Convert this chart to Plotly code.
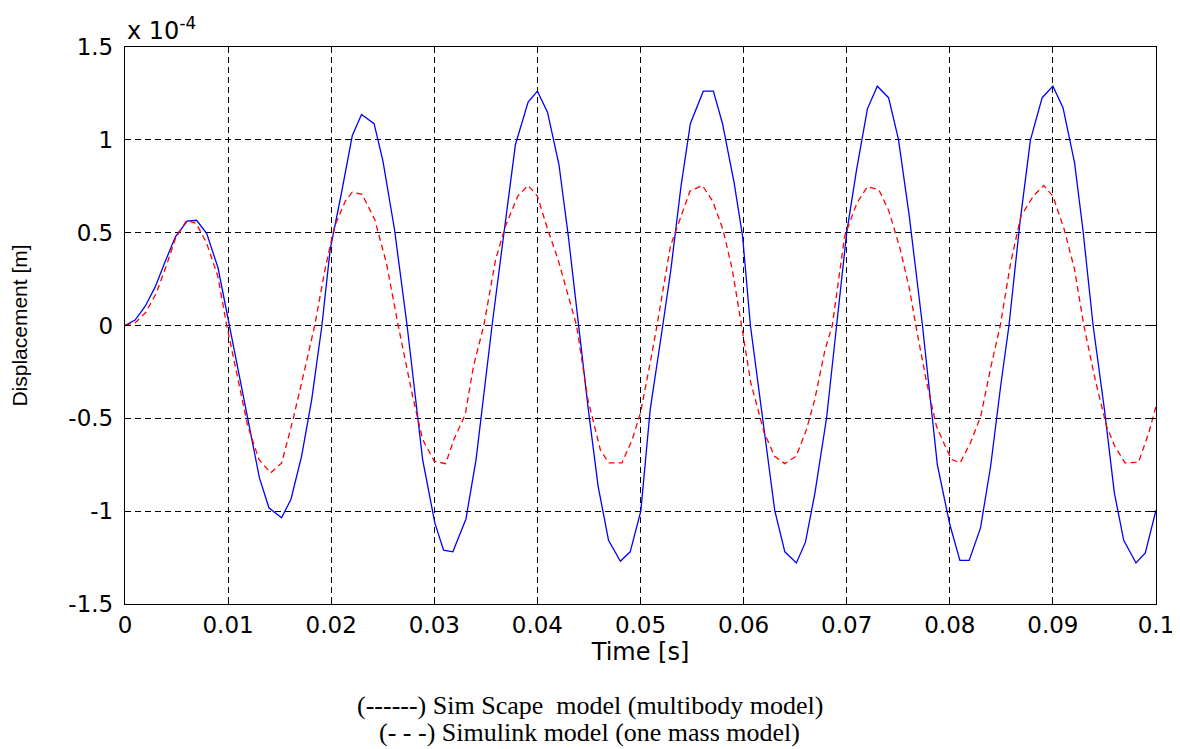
import plotly.graph_objects as go

# Time samples [s] and displacement [x 1e-4 m]
simscape_t = [0, 0.00098, 0.00196, 0.00293, 0.00391, 0.00489, 0.00603, 0.00694, 0.00792, 0.00902,
              0.01304, 0.01396, 0.01518, 0.01609, 0.01713, 0.01811, 0.01909, 0.01990, 0.0210, 0.02205,
              0.02294, 0.02416, 0.02502, 0.02614, 0.02736, 0.02887, 0.03005, 0.0309, 0.0318, 0.03307,
              0.03405, 0.0356, 0.0368, 0.03787, 0.0391, 0.0400, 0.04098, 0.04209, 0.0430, 0.04397,
              0.04494, 0.04589, 0.0469, 0.04805, 0.049, 0.05003, 0.05094, 0.05216, 0.05295, 0.05393,
              0.05484, 0.05609, 0.05707, 0.05795, 0.05908, 0.0599, 0.06066, 0.06302, 0.064, 0.06512,
              0.066, 0.06692, 0.06805, 0.06902, 0.070, 0.07096, 0.07201, 0.07297, 0.07406, 0.07502,
              0.07607, 0.07735, 0.07879, 0.08, 0.08098, 0.08188, 0.08298, 0.08396, 0.08493, 0.08574,
              0.0868, 0.08782, 0.08896, 0.09, 0.09098, 0.0921, 0.09291, 0.0939, 0.095, 0.09596,
              0.09687, 0.09806, 0.09896, 0.1]
simscape_y = [0, 0.029, 0.104, 0.208, 0.346, 0.478, 0.562, 0.567, 0.496, 0.311,
              -0.821, -0.982, -1.036, -0.937, -0.704, -0.399, -0.004, 0.409, 0.715, 1.024,
              1.137, 1.087, 0.885, 0.517, 0.0, -0.722, -1.063, -1.21, -1.219, -1.042,
              -0.722, 0.0, 0.517, 0.975, 1.203, 1.262, 1.149, 0.867, 0.481, 0.0,
              -0.453, -0.866, -1.157, -1.27, -1.219, -1.0, -0.453, 0.0, 0.302, 0.751,
              1.088, 1.262, 1.262, 1.088, 0.769, 0.481, 0.0, -0.996, -1.219, -1.279,
              -1.167, -0.901, -0.497, 0.0, 0.5, 0.84, 1.167, 1.289, 1.227, 1.002,
              0.589, 0.0, -0.749, -1.072, -1.265, -1.265, -1.09, -0.758, -0.327, 0.0,
              0.553, 0.998, 1.227, 1.289, 1.173, 0.877, 0.517, 0.0, -0.453, -0.901,
              -1.157, -1.279, -1.225, -0.995]

simulink_t = [0, 0.001, 0.002, 0.003, 0.004, 0.0049, 0.006, 0.0069, 0.0079, 0.009,
              0.00987, 0.0110, 0.0119, 0.0130, 0.01412, 0.0152, 0.0163, 0.0175, 0.0184, 0.0194,
              0.02033, 0.02137, 0.02205, 0.023, 0.02422, 0.02535, 0.0265, 0.0279, 0.02887, 0.030,
              0.0311, 0.0319, 0.0330, 0.0338, 0.0348, 0.03595, 0.0369, 0.0381, 0.0391, 0.0400,
              0.0410, 0.042, 0.043, 0.0438, 0.0449, 0.0461, 0.0469, 0.0482, 0.0492, 0.050,
              0.0510, 0.0516, 0.0529, 0.0548, 0.056, 0.0570, 0.0580, 0.0589, 0.0598, 0.0607,
              0.0620, 0.063, 0.064, 0.0651, 0.0661, 0.0669, 0.0679, 0.0686, 0.0698, 0.0710,
              0.0720, 0.0731, 0.0741, 0.0752, 0.0761, 0.0767, 0.0777, 0.0787, 0.0797, 0.0802,
              0.0810, 0.0820, 0.0830, 0.0840, 0.0849, 0.0859, 0.0869, 0.0881, 0.0891, 0.0900,
              0.0911, 0.0921, 0.0930, 0.0941, 0.0952, 0.0960, 0.0970, 0.0983, 0.0993, 0.1]
simulink_y = [0, 0.015, 0.07, 0.17, 0.32, 0.47, 0.567, 0.55, 0.446, 0.266,
              0.0, -0.31, -0.54, -0.722, -0.794, -0.74, -0.506, -0.219, 0.0, 0.302,
              0.535, 0.67, 0.718, 0.706, 0.571, 0.338, 0.0, -0.381, -0.614, -0.731,
              -0.744, -0.614, -0.48, -0.219, 0.0, 0.356, 0.535, 0.697, 0.754, 0.697,
              0.517, 0.356, 0.158, 0.0, -0.399, -0.668, -0.74, -0.74, -0.614, -0.47,
              -0.183, 0.0, 0.427, 0.724, 0.754, 0.67, 0.517, 0.302, 0.0, -0.309,
              -0.578, -0.704, -0.744, -0.704, -0.56, -0.399, -0.13, 0.0, 0.481, 0.661,
              0.747, 0.733, 0.616, 0.409, 0.194, 0.0, -0.291, -0.542, -0.668, -0.722,
              -0.74, -0.632, -0.489, -0.219, 0.0, 0.338, 0.589, 0.697, 0.754, 0.697,
              0.517, 0.302, 0.0, -0.291, -0.542, -0.65, -0.74, -0.737, -0.578, -0.435]

y_tick_vals = [-1.5, -1, -0.5, 0, 0.5, 1, 1.5]
y_tick_text = ["-1.5", "-1", "-0.5", "0", "0.5", "1", "1.5"]
x_tick_vals = [0, 0.01, 0.02, 0.03, 0.04, 0.05, 0.06, 0.07, 0.08, 0.09, 0.1]
x_tick_text = ["0", "0.01", "0.02", "0.03", "0.04", "0.05", "0.06", "0.07", "0.08", "0.09", "0.1"]
caption_lines = ["(------) Sim Scape  model (multibody model)",
                 "(- - -) Simulink model (one mass model)"]

fig = go.Figure()
fig.add_trace(go.Scatter(x=simscape_t, y=simscape_y, mode="lines",
                         line=dict(color="#0000FF", width=1.3), showlegend=False))
fig.add_trace(go.Scatter(x=simulink_t, y=simulink_y, mode="lines",
                         line=dict(color="#FF0000", width=1.3, dash="6px,4px"), showlegend=False))

tickfont = dict(family="DejaVu Sans", size=23, color="black")
axis_common = dict(showline=True, linecolor="black", linewidth=1.3, mirror="ticks",
                   ticks="inside", ticklen=6, tickcolor="black",
                   showgrid=True, gridcolor="black", gridwidth=1, griddash="6px,4px",
                   zeroline=False, tickfont=tickfont)

fig.update_xaxes(range=[0, 0.1], tickvals=x_tick_vals, ticktext=x_tick_text,
                 title=dict(text="Time [s]", font=dict(family="DejaVu Sans", size=24, color="black"),
                            standoff=2),
                 ticklabelstandoff=0, **axis_common)
fig.update_yaxes(range=[-1.5, 1.5], tickvals=y_tick_vals, ticktext=y_tick_text,
                 title=dict(text="Displacement [m]", font=dict(family="Liberation Sans", size=21, color="black"),
                            standoff=39),
                 ticklabelstandoff=6, **axis_common)

fig.add_annotation(xref="paper", yref="paper", x=0.0, y=1.0, xanchor="left", yanchor="bottom",
                   text="x 10<sup>-4</sup>", showarrow=False, yshift=0,
                   font=dict(family="DejaVu Sans", size=24, color="black"))
# caption lines, centred on the page (page x 590 -> paper 0.451)
for line_text, ypos in zip(caption_lines, [-0.183, -0.2315]):
    fig.add_annotation(xref="paper", yref="paper", x=0.451, y=ypos, xanchor="center", yanchor="middle",
                       text=line_text, showarrow=False, align="center",
                       font=dict(family="Liberation Serif", size=26, color="black"))

# page body has an 8px margin: figure sized to fit the window from that offset
fig.update_layout(width=1172, height=741, paper_bgcolor="white", plot_bgcolor="white",
                  margin=dict(l=117, r=24, t=39, b=145, autoexpand=False))

fig.write_html("out.html")
